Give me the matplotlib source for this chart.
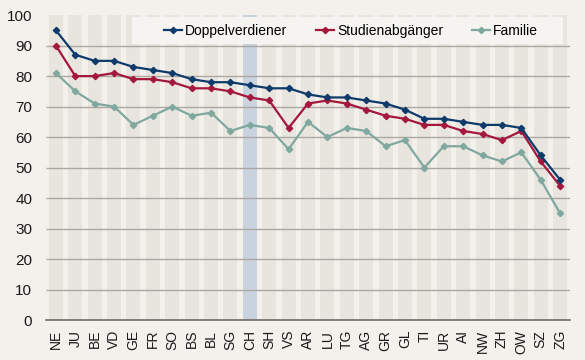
import numpy as np
import matplotlib.pyplot as plt
from matplotlib.patches import Rectangle

plt.rcParams['font.family'] = ['Liberation Sans', 'DejaVu Sans']

kantone = ["NE", "JU", "BE", "VD", "GE", "FR", "SO", "BS", "BL", "SG", "CH", "SH", "VS", "AR",
           "LU", "TG", "AG", "GR", "GL", "TI", "UR", "AI", "NW", "ZH", "OW", "SZ", "ZG"]
doppelverdiener = [95, 87, 85, 85, 83, 82, 81, 79, 78, 78, 77, 76, 76, 74,
                   73, 73, 72, 71, 69, 66, 66, 65, 64, 64, 63, 54, 46]
studienabgaenger = [90, 80, 80, 81, 79, 79, 78, 76, 76, 75, 73, 72, 63, 71,
                    72, 71, 69, 67, 66, 64, 64, 62, 61, 59, 62, 52, 44]
familie = [81, 75, 71, 70, 64, 67, 70, 67, 68, 62, 64, 63, 56, 65,
           60, 63, 62, 57, 59, 50, 57, 57, 54, 52, 55, 46, 35]
highlight = "CH"

bg = "#f4f1ed"
band = "#e8e4de"
band_hi = "#c8d3de"

fig = plt.figure(figsize=(5.85, 3.6), dpi=100, facecolor=bg)
ax = fig.add_axes([0.079, 0.111, 0.895, 0.847])
ax.set_facecolor(bg)

x = np.arange(len(kantone))
colors = [band_hi if k == highlight else band for k in kantone]
ax.bar(x, 100, width=0.72, color=colors, zorder=1)
ax.hlines(np.arange(10, 100, 10), -0.5, len(kantone) - 0.5, color="#aca7a2", lw=1, zorder=2)

ax.plot(x, doppelverdiener, color="#0e3b6b", marker="D", ms=3.2, lw=1.6, label="Doppelverdiener", zorder=5)
ax.plot(x, studienabgaenger, color="#a3183b", marker="D", ms=3.2, lw=1.6, label="Studienabgänger", zorder=4)
ax.plot(x, familie, color="#7fa99f", marker="D", ms=3.2, lw=1.6, label="Familie", zorder=3)

ax.set_xlim(-0.5, len(kantone) - 0.5)
ax.set_ylim(0, 100)
ax.set_yticks(np.arange(0, 101, 10))
ax.set_xticks(x)
ax.set_xticklabels(kantone, rotation=90)
ax.tick_params(length=0, colors="#1a1a1a")
ax.tick_params(axis="x", pad=7, labelsize=10)
ax.tick_params(axis="y", pad=10, labelsize=11)
for s in ["left", "right", "top"]:
    ax.spines[s].set_visible(False)
ax.spines["bottom"].set_color("#6e6a66")
ax.spines["bottom"].set_linewidth(1.2)

# legend box
ax.add_patch(Rectangle((0.164, 0.905), 0.823, 0.089, transform=ax.transAxes,
                       facecolor="#f6f4f1", edgecolor="none", zorder=6))
leg = ax.legend(loc="center", bbox_to_anchor=(0.582, 0.949), ncol=3, frameon=False,
                fontsize=10, handlelength=1.3, handletextpad=0.2, columnspacing=2.1,
                borderaxespad=0, borderpad=0)
leg.set_zorder(7)

fig.savefig("out.png", dpi=100, facecolor=bg)
